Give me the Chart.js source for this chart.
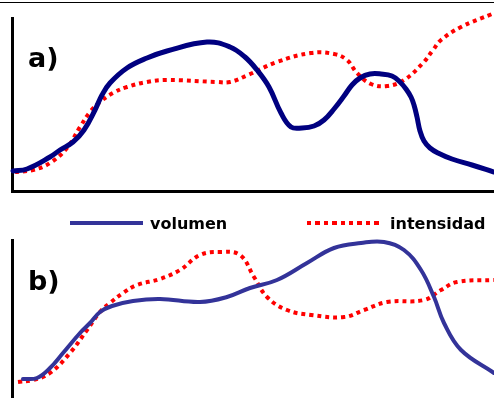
<!DOCTYPE html>
<html>
<head>
<meta charset="utf-8">
<script src="https://cdn.jsdelivr.net/npm/chart.js@4"></script>
<style>
  body { margin: 0; width: 494px; height: 398px; background: #fff; position: relative; overflow: hidden;
         font-family: 'DejaVu Sans', Verdana, sans-serif; }
  #rule { position: absolute; left: 0; top: 2px; width: 494px; border-top: 1px solid #000; }
  canvas { position: absolute; left: 0; }
  #chartA { top: 0; }
  #chartB { top: 200px; }
  .key { position: absolute; top: 214px; height: 18px; display: flex; align-items: center;
         font-weight: bold; font-size: 16px; color: #000; }
  .swatch { height: 4px; }
</style>
</head>
<body>
<div id="rule"></div>
<canvas id="chartA" width="494" height="200"></canvas>
<canvas id="chartB" width="494" height="198"></canvas>
<div class="key" style="left:70px">
  <span class="swatch" style="width:73px;background:#333399;margin-right:7px"></span>volumen
</div>
<div class="key" style="left:307px">
  <span class="swatch" style="width:72px;margin-right:11px;background:repeating-linear-gradient(90deg,#ff0000 0 4.5px,transparent 4.5px 8.4px)"></span>intensidad
</div>
<script>
// panel a) -- time axis 0..482, height above the baseline
var volumenAX    = [1, 15, 38, 48, 61, 72, 83, 90, 98, 115, 135, 155, 195, 218, 233, 245, 257, 269, 279, 290, 302, 312, 322, 332, 340, 348, 358, 369, 380, 388, 394, 399, 402, 405, 408, 412, 418, 426, 440, 460, 482];
var volumenAY    = [20, 22, 34, 41, 49, 61, 81, 96, 108, 123, 133, 140, 149, 144, 134, 121, 104, 78, 64, 63, 65, 71, 82, 95, 106, 113, 117, 117, 115, 109, 102, 94, 86, 74, 60, 50, 43, 38, 32, 26, 19];
var intensidadAX = [3, 21, 38, 55, 68, 78, 88, 101, 115, 135, 155, 205, 218, 236, 265, 299, 322, 335, 345, 359, 375, 392, 411, 421, 429, 449, 480];
var intensidadAY = [19, 21, 28, 43, 64, 79, 89, 98, 104, 109, 111, 109, 109, 116, 129, 138, 137, 131, 118, 107, 105, 111, 128, 141, 151, 164, 177];

// panel b)
var volumenBX    = [11, 25, 38, 51, 68, 78, 88, 100, 121, 148, 188, 215, 238, 265, 295, 322, 349, 372, 392, 409, 422, 432, 449, 482];
var volumenBY    = [19, 20, 30, 45, 65, 75, 86, 92, 97, 99, 96, 101, 110, 118, 135, 150, 155, 156, 148, 128, 101, 75, 48, 25];
var intensidadBX = [6, 21, 38, 58, 75, 88, 98, 111, 125, 148, 168, 188, 208, 228, 242, 255, 275, 299, 332, 352, 375, 412, 429, 445, 482];
var intensidadBY = [16, 18, 25, 45, 68, 86, 95, 105, 113, 119, 128, 143, 146, 143, 121, 101, 88, 83, 81, 88, 96, 98, 108, 116, 118];

var labels = ['volumen', 'intensidad'];

function pts(xs, ys) { return xs.map((x, i) => ({ x: x, y: ys[i] })); }

var panelLabel = {
  id: 'panelLabel',
  afterDraw(chart, args, opts) {
    var ctx = chart.ctx;
    ctx.save();
    ctx.font = 'bold 27px "DejaVu Sans"';
    ctx.fillStyle = '#000';
    ctx.fillText(opts.text, opts.x, opts.y);
    ctx.restore();
  }
};

function makeChart(id, blue, red, blueColor, blueWidth, yMax, pad, bottomBorder, tag) {
  return new Chart(document.getElementById(id), {
    type: 'line',
    data: {
      datasets: [{
        label: labels[0],
        data: blue,
        borderColor: blueColor,
        borderWidth: blueWidth,
        borderCapStyle: 'round',
        tension: 0.4,
        pointRadius: 0,
        clip: false
      }, {
        label: labels[1],
        data: red,
        borderColor: '#ff0000',
        borderWidth: 4,
        borderDash: [4, 4],
        tension: 0.4,
        pointRadius: 0,
        clip: false
      }]
    },
    options: {
      responsive: false,
      animation: false,
      layout: { padding: pad },
      plugins: {
        legend: { display: false },
        tooltip: { enabled: false },
        panelLabel: tag
      },
      scales: {
        x: {
          type: 'linear', min: 0, max: 482,
          ticks: { display: false },
          grid: { display: false, drawTicks: false },
          border: { display: bottomBorder, color: '#000', width: 3 },
          afterFit: function (s) { s.height = 0; }
        },
        y: {
          min: 0, max: yMax,
          ticks: { display: false },
          grid: { display: false, drawTicks: false },
          border: { display: true, color: '#000', width: 3 },
          afterFit: function (s) { s.width = 0; }
        }
      }
    },
    plugins: [panelLabel]
  });
}

makeChart('chartA', pts(volumenAX, volumenAY), pts(intensidadAX, intensidadAY), '#000080', 5, 173,
  { left: 12, top: 18, right: 0, bottom: 9 }, true, { text: 'a)', x: 28, y: 67 });

makeChart('chartB', pts(volumenBX, volumenBY), pts(intensidadBX, intensidadBY), '#333399', 4, 158,
  { left: 12, top: 40, right: 0, bottom: 0 }, false, { text: 'b)', x: 28, y: 90 });
</script>
</body>
</html>
